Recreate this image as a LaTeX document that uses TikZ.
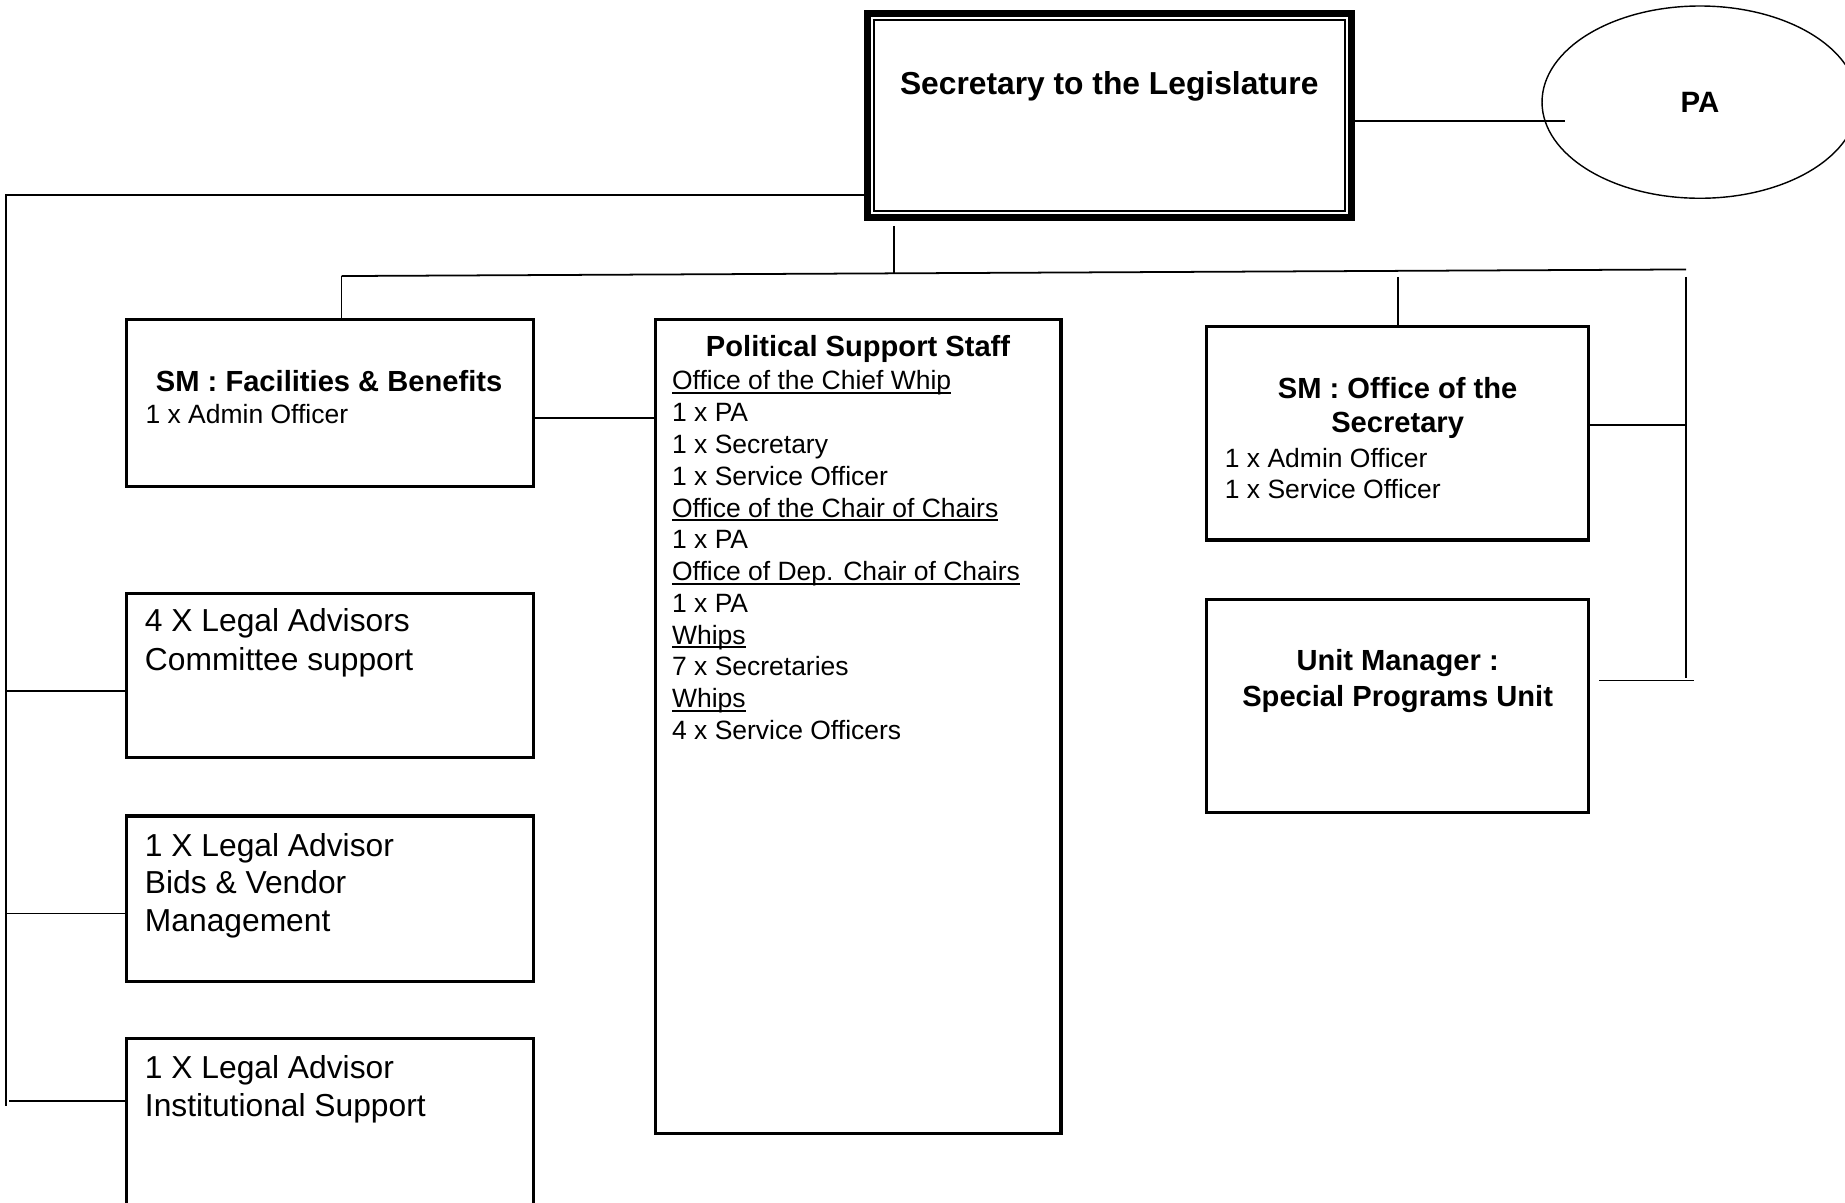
\documentclass[tikz,border=0pt]{standalone}
\usepackage{fontspec}
\setmainfont{Liberation Sans}
\usetikzlibrary{shapes.geometric}
\newcommand\myul[1]{\setbox0=\hbox{#1}\rlap{\rule[-3.4pt]{\wd0}{1.6pt}}\box0}
\begin{document}
\begin{tikzpicture}[x=1pt,y=-1pt,
  box/.style={draw, rectangle, line width=2.6pt, outer sep=0pt, inner sep=0pt},
  conn/.style={line width=1.5pt},
  nt/.style={inner sep=0pt, anchor=base west, font=\fontsize{22.5}{27}\selectfont},
  lt/.style={inner sep=0pt, anchor=base west, font=\fontsize{27}{32}\selectfont},
  bt/.style={inner sep=0pt, anchor=base, font=\fontsize{24.75}{30}\selectfont\bfseries}]
\useasboundingbox (0,0) rectangle (1568,1022);
\clip (0,0) rectangle (1568,1022);
\fill[white] (0,0) rectangle (1568,1022);

% Secretary box (double border)
\node[draw, rectangle, line width=6pt, outer sep=0pt, inner sep=0pt,
      minimum width=411.5pt, minimum height=173pt] (sec) at (943.05,98) {};
\draw[line width=1.6pt] ([shift={(5.5,5.5)}]sec.north west) rectangle ([shift={(-5.5,-5.5)}]sec.south east);
\node[inner sep=0pt, anchor=base, font=\fontsize{27}{32}\selectfont\bfseries] (sect) at (942.7,80) {Secretary to the Legislature};

% PA ellipse
\node[draw, ellipse, line width=1.2pt, inner sep=0pt, minimum width=268.4pt, minimum height=163.4pt,
      font=\fontsize{25}{30}\selectfont\bfseries] (pa) at (1444.7,86.8) {PA};

% Boxes
\node[box, minimum width=345.6pt, minimum height=141.9pt] (fac) at (280.2,342.75) {};
\node[box, minimum width=345.4pt, minimum height=139.7pt] (la4) at (280.3,573.95) {};
\node[box, minimum width=345.4pt, minimum height=140.7pt] (labid) at (280.3,763.85) {};
\node[box, minimum width=345.4pt, minimum height=156.4pt] (lainst) at (280.3,960.75) {};
\node[box, minimum width=344.8pt, minimum height=691.4pt] (pol) at (729.3,617.25) {};
\node[box, minimum width=324.3pt, minimum height=181.6pt] (osec) at (1187.85,368.1) {};
\node[box, minimum width=324.3pt, minimum height=180.4pt] (spu) at (1187.85,600) {};

% Texts: Facilities
\node[bt] (facT) at (279.7,332.8) {SM : Facilities \& Benefits};
\node[nt] (fac1) at (123.5,359.8) {1 x Admin Officer};

% Legal advisors
\node[lt] (la4a) at (123,536.4) {4 X Legal Advisors};
\node[lt] (la4b) at (123,569.6) {Committee support};
\node[lt] (labida) at (123,727.5) {1 X Legal Advisor};
\node[lt] (labidb) at (123,759.4) {Bids \& Vendor};
\node[lt] (labidc) at (123,791.3) {Management};
\node[lt] (lainsta) at (123,916.2) {1 X Legal Advisor};
\node[lt] (lainstb) at (123,948.8) {Institutional Support};

% Political support staff
\node[bt] (polT) at (729.2,303) {Political Support Staff};
\node[nt] (p1) at (571,331.4) {\myul{Office of the Chief Whip}};
\node[nt] (p2) at (571,358.4) {1 x PA};
\node[nt] (p3) at (571,385.4) {1 x Secretary};
\node[nt] (p4) at (571,412.4) {1 x Service Officer};
\node[nt] (p5) at (571,439.4) {\myul{Office of the Chair of Chairs}};
\node[nt] (p6) at (571,466.4) {1 x PA};
\node[nt] (p7) at (571,493.4) {\myul{Office of Dep. Chair of Chairs}};
\node[nt] (p8) at (571,520.4) {1 x PA};
\node[nt] (p9) at (571,547.4) {\myul{Whips}};
\node[nt] (p10) at (571,574.4) {7 x Secretaries};
\node[nt] (p11) at (571,601.4) {\myul{Whips}};
\node[nt] (p12) at (571,628.4) {4 x Service Officers};

% Office of the Secretary
\node[bt] (osecT1) at (1187.8,338.7) {SM : Office of the};
\node[bt] (osecT2) at (1187.8,367.9) {Secretary};
\node[nt] (osec1) at (1040.8,396.9) {1 x Admin Officer};
\node[nt] (osec2) at (1040.8,423.9) {1 x Service Officer};

% Special programs unit
\node[bt] (spuT1) at (1187.8,569.6) {Unit Manager :};
\node[bt] (spuT2) at (1187.8,600.2) {Special Programs Unit};

% Connector end points
\coordinate (lbot) at (4.8,940);
\coordinate (ltop) at (4.8,165.7);
\coordinate (paend) at (1330,102.6);
\coordinate (sdtop) at (759.5,192);
\coordinate (sdbot) at (759.5,231.7);
\coordinate (busL) at (290.3,234.6);
\coordinate (busR) at (1433,229);
\coordinate (rtop) at (1432.6,235.2);
\coordinate (rbot) at (1432.6,575.8);
\coordinate (otop) at (1187.85,235.2);
\coordinate (uL) at (1359.2,578.3);
\coordinate (uR) at (1439.6,578.3);

% Connectors
\draw[conn] (sec.west |- ltop) -- (ltop) -- (lbot);
\draw[conn] (4.8,587.1) -- (la4.west |- {(0,587.1)});
\draw[conn] (4.8,776.4) -- (labid.west |- {(0,776.4)});
\draw[conn] (7.8,935.4) -- (109,935.4);
\draw[conn] (sec.east |- paend) -- (paend);
\draw[conn] (sdtop) -- (sdbot);
\draw[conn] (busL) -- (busR);
\draw[conn] (busL) -- (fac.north -| busL);
\draw[conn] (otop) -- (osec.north);
\draw[conn] (rtop) -- (rbot);
\draw[conn] (osec.east |- {(0,361.4)}) -- (rtop |- {(0,361.4)});
\draw[conn] (uL) -- (uR);
\draw[conn] (fac.east |- {(0,355)}) -- (pol.west |- {(0,355)});
\end{tikzpicture}
\end{document}
